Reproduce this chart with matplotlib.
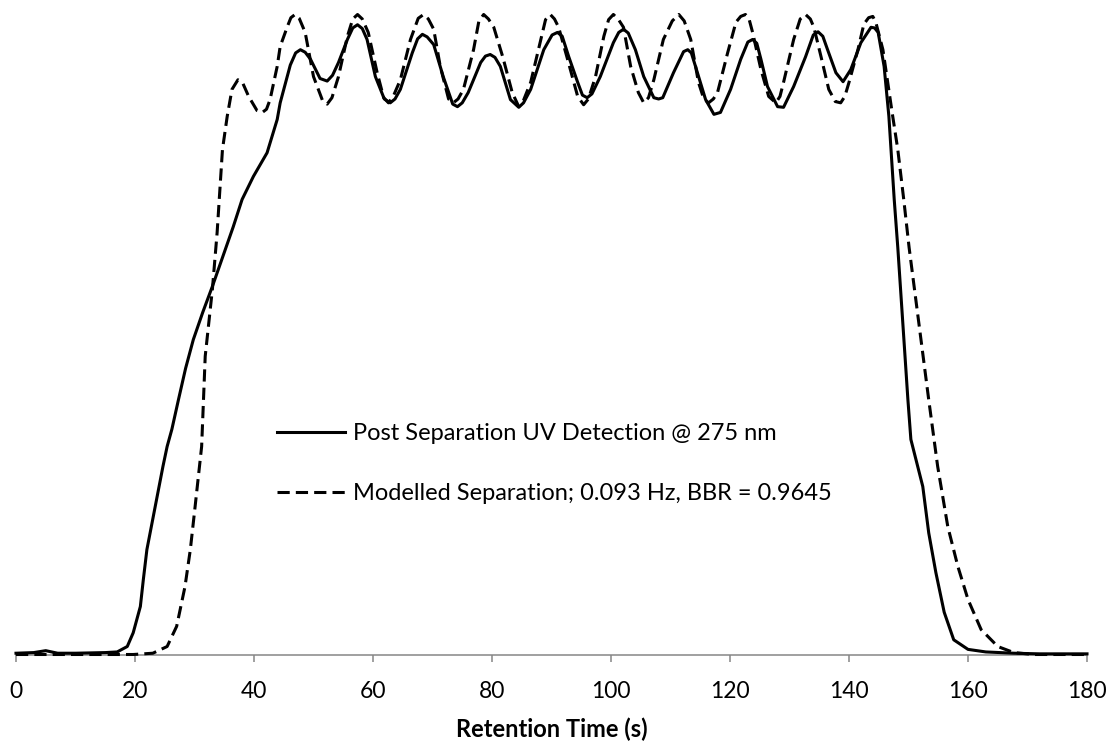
# -*- coding: utf-8 -*-
"""
Retention time trace: measured UV detection vs modelled separation
"""

import numpy as np
import matplotlib

matplotlib.use("Agg")
import matplotlib.pyplot as plt


# region Data (normalised signal)

time_measured = [
    0, 3, 5, 7, 10, 15, 17, 18.7, 19.7, 20.9, 21.4, 22, 23.4, 24.7, 25.4,
    26.2, 27.3, 28.5, 29.8, 31.4, 33, 34.7, 36.5, 38, 39.9, 42.2, 43.9,
    44.4, 46.1, 47, 47.8, 48.6, 49.5, 51.1, 52.3, 53.2, 54.2, 55.7, 56.6,
    57.4, 58.2, 59, 60.4, 61.9, 62.9, 63.7, 64.6, 66.6, 67.5, 68.3, 69.1,
    70.2, 71.8, 73.4, 74.2, 75, 76, 78.1, 78.9, 79.7, 80.5, 81.4, 83.1,
    84.5, 85.3, 86.5, 88.7, 90.1, 91, 91.8, 92.9, 94.4, 95.2, 96, 96.8,
    98.2, 100.4, 101.3, 102.1, 102.9, 104.1, 105.5, 107.2, 108, 108.7,
    110.5, 112.2, 112.9, 113.5, 114.2, 115.9, 117.3, 118.4, 120.1, 121.8,
    123, 123.8, 124.5, 125.2, 126.3, 128, 129, 130.7, 132.7, 134, 134.8,
    135.6, 136.4, 137.8, 139, 140.3, 142, 143.7, 144.3, 144.9, 145.9,
    146.7, 147.6, 148.2, 149.9, 150.4, 152.4, 153.4, 154.6, 156, 157.6,
    160, 163, 167.7, 172, 180,
]
signal_measured = [
    0.002, 0.003, 0.006, 0.002, 0.002, 0.003, 0.004, 0.0125, 0.034, 0.075,
    0.117, 0.164, 0.231, 0.294, 0.325, 0.352, 0.398, 0.447, 0.492, 0.535,
    0.575, 0.62, 0.668, 0.711, 0.747, 0.784, 0.836, 0.862, 0.921, 0.94,
    0.945, 0.941, 0.93, 0.9, 0.896, 0.905, 0.925, 0.961, 0.979, 0.984,
    0.978, 0.961, 0.903, 0.868, 0.862, 0.868, 0.883, 0.94, 0.962, 0.969,
    0.965, 0.953, 0.903, 0.86, 0.856, 0.862, 0.878, 0.925, 0.935, 0.9375,
    0.933, 0.919, 0.867, 0.855, 0.862, 0.883, 0.945, 0.968, 0.972, 0.966,
    0.934, 0.894, 0.874, 0.87, 0.876, 0.903, 0.956, 0.972, 0.977, 0.971,
    0.945, 0.903, 0.87, 0.868, 0.87, 0.909, 0.942, 0.945, 0.94, 0.919,
    0.867, 0.844, 0.847, 0.883, 0.93, 0.957, 0.961, 0.955, 0.93, 0.8875,
    0.856, 0.855, 0.8875, 0.934, 0.968, 0.973, 0.966, 0.945, 0.909, 0.895,
    0.914, 0.956, 0.98, 0.979, 0.972, 0.919, 0.841, 0.711, 0.636, 0.398,
    0.336, 0.2625, 0.19, 0.128, 0.066, 0.023, 0.008, 0.004, 0.002, 0.001,
    0.001,
]

time_model = [
    0, 10, 17, 19.7, 23, 25.4, 27, 28.4, 29.3, 30.1, 31.2, 31.8, 33, 33.8,
    34.7, 35.5, 36.3, 37.3, 38.1, 39.1, 40.5, 41.4, 42.1, 42.7, 43.9, 44.4,
    45.6, 46.2, 46.9, 47.6, 48.6, 50, 51.5, 52.3, 53.1, 54.2, 55.7, 56.6,
    57.4, 58.2, 59.2, 60.7, 61.8, 62.6, 63.4, 64.6, 66.3, 67.6, 68.5, 69.3,
    70.2, 71.3, 72.7, 73.5, 74.3, 75.2, 76.9, 77.8, 78.6, 79.4, 80.3, 81.8,
    83.4, 84.5, 85.3, 86.5, 88.2, 89, 89.8, 90.5, 91.2, 92.7, 94.4, 95.4,
    96.2, 97.4, 98.8, 99.6, 100.4, 101.2, 102.1, 103.3, 104.6, 105.5,
    106.3, 107.2, 108.8, 110.3, 111.4, 112.3, 113.4, 114.7, 115.6, 116.4,
    117.2, 117.9, 119.6, 121, 121.8, 122.6, 123.2, 123.8, 125.2, 126.5,
    127.7, 128.4, 129, 130.7, 131.8, 132.7, 133.5, 134.1, 135.3, 136.6,
    137.7, 138.6, 139.3, 140, 141.5, 142.5, 143.3, 144, 144.5, 145.7,
    146.5, 147.2, 148.2, 149.2, 150.1, 151.7, 153.4, 154.9, 156.6, 158.3,
    160, 162.2, 165, 167.7, 171, 180,
]
signal_model = [
    0, 0, 0, 0, 0.002, 0.0125, 0.044, 0.106, 0.164, 0.231, 0.325, 0.466,
    0.57, 0.659, 0.789, 0.841, 0.883, 0.898, 0.893, 0.872, 0.85, 0.847,
    0.852, 0.867, 0.919, 0.95, 0.981, 0.995, 1.0, 0.994, 0.972, 0.903,
    0.866, 0.86, 0.87, 0.903, 0.966, 0.993, 1.0, 0.993, 0.972, 0.909, 0.87,
    0.862, 0.872, 0.898, 0.961, 0.994, 1.0, 0.993, 0.977, 0.919, 0.868,
    0.862, 0.868, 0.883, 0.945, 0.99, 1.0, 0.993, 0.98, 0.934, 0.878,
    0.856, 0.866, 0.894, 0.961, 0.992, 1.0, 0.993, 0.98, 0.93, 0.872,
    0.859, 0.868, 0.903, 0.966, 0.992, 1.0, 0.993, 0.98, 0.919, 0.878,
    0.862, 0.87, 0.898, 0.961, 0.99, 1.0, 0.99, 0.961, 0.894, 0.868, 0.862,
    0.868, 0.878, 0.94, 0.988, 0.997, 1.0, 0.993, 0.972, 0.914, 0.872,
    0.862, 0.872, 0.894, 0.961, 0.993, 1.0, 0.993, 0.98, 0.934, 0.883,
    0.864, 0.862, 0.872, 0.894, 0.945, 0.985, 0.995, 0.997, 0.988, 0.945,
    0.894, 0.85, 0.789, 0.711, 0.636, 0.52, 0.398, 0.294, 0.2, 0.1375,
    0.086, 0.039, 0.0125, 0.003, 0.0, 0.0,
]

label_measured = "Post Separation UV Detection @ 275 nm"
label_model = "Modelled Separation; 0.093 Hz, BBR = 0.9645"
x_ticks = np.arange(0, 181, 20)

# endregion


def main():

    plt.rcParams["font.family"] = ["Lato", "DejaVu Sans"]

    fig = plt.figure(figsize=(11.14, 7.42), dpi=100)
    ax = fig.add_axes([16 / 1114, 87.5 / 742, 1071 / 1114, 649.5 / 742])

    lw = 2.2
    ax.plot(time_measured, signal_measured, color="black", lw=lw,
            solid_joinstyle="round", label=label_measured, clip_on=False)
    ax.plot(time_model, signal_model, color="black", lw=lw,
            linestyle=(0, (4.0, 2.0)), label=label_model, clip_on=False)

    ax.set_xlim(0, 180)
    ax.set_ylim(0, 649.5 / 640)
    ax.set_xticks(x_ticks)
    ax.set_yticks([])

    for side in ["top", "right", "left"]:
        ax.spines[side].set_visible(False)
    ax.spines["bottom"].set_color("#868686")
    ax.spines["bottom"].set_linewidth(1.1)
    ax.spines["bottom"].set_zorder(0)

    ax.tick_params(axis="x", direction="out", length=5, width=1.1,
                   color="#868686", labelsize=16.5, pad=14, labelcolor="black")
    ax.set_xlabel("Retention Time (s)", fontsize=17, fontweight="bold",
                  labelpad=11)

    ax.legend(
        loc="center left",
        bbox_to_anchor=(261 / 1071, 0.294),
        frameon=False,
        fontsize=17,
        borderpad=0,
        borderaxespad=0,
        handlelength=2.9,
        handletextpad=0.3,
        labelspacing=1.65,
    )

    fig.savefig("out.png", dpi=100)


if __name__ == "__main__":

    main()
